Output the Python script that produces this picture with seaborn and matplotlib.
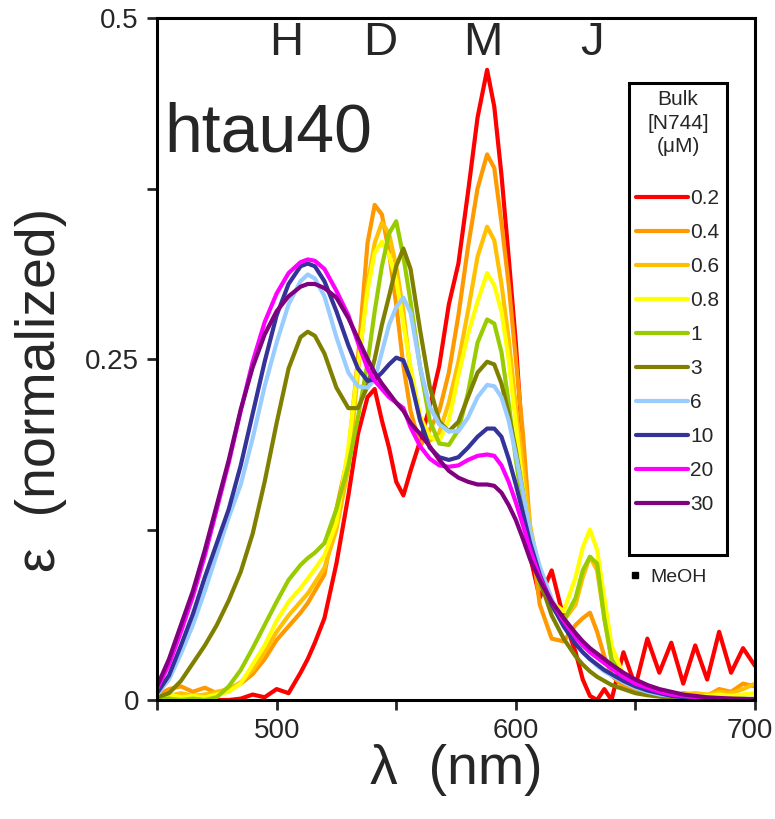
import matplotlib
matplotlib.use("Agg")
import matplotlib.pyplot as plt
import matplotlib.transforms as mtransforms
from matplotlib.lines import Line2D
import seaborn as sns
import pandas as pd

# wavelength grid (nm), denser around the band maxima
wavelength = [450, 455, 460, 465, 470, 475, 480, 485, 490, 495, 500, 505,
              510, 513, 516, 520, 525, 530, 534, 538, 541, 544, 547, 550,
              553, 556, 560, 564, 568, 572, 576, 580, 584, 588, 591, 594,
              597, 600, 603, 606, 610, 615, 620, 625, 628, 631, 634, 637,
              640, 645, 650, 655, 660, 665, 670, 675, 680, 685, 690, 695, 700]

eps_02 = [0.000, 0.000, 0.000, 0.000, 0.000, 0.000, 0.000, 0.001, 0.004, 0.002, 0.008, 0.005,
          0.020, 0.030, 0.042, 0.060, 0.100, 0.150, 0.195, 0.222, 0.228, 0.205, 0.185, 0.160,
          0.150, 0.168, 0.190, 0.215, 0.245, 0.290, 0.320, 0.372, 0.427, 0.462, 0.435, 0.385,
          0.325, 0.262, 0.183, 0.105, 0.075, 0.095, 0.060, 0.035, 0.015, 0.003, 0.000, 0.008,
          0.000, 0.035, 0.010, 0.045, 0.020, 0.042, 0.012, 0.040, 0.015, 0.050, 0.020, 0.038, 0.025]

eps_04 = [0.003, 0.008, 0.010, 0.006, 0.009, 0.005, 0.008, 0.012, 0.019, 0.030, 0.044, 0.054,
          0.064, 0.071, 0.080, 0.092, 0.140, 0.180, 0.250, 0.335, 0.363, 0.356, 0.328, 0.290,
          0.245, 0.212, 0.186, 0.198, 0.212, 0.240, 0.282, 0.332, 0.375, 0.400, 0.390, 0.350,
          0.305, 0.250, 0.195, 0.125, 0.070, 0.045, 0.043, 0.055, 0.060, 0.064, 0.050, 0.032,
          0.018, 0.010, 0.006, 0.004, 0.006, 0.003, 0.005, 0.004, 0.003, 0.008, 0.006, 0.012, 0.010]

eps_06 = [0.004, 0.003, 0.005, 0.003, 0.004, 0.006, 0.008, 0.013, 0.022, 0.035, 0.050, 0.062,
          0.072, 0.078, 0.086, 0.097, 0.125, 0.170, 0.240, 0.305, 0.335, 0.350, 0.342, 0.318,
          0.285, 0.240, 0.205, 0.190, 0.196, 0.218, 0.248, 0.285, 0.325, 0.347, 0.337, 0.305,
          0.265, 0.215, 0.170, 0.128, 0.092, 0.070, 0.058, 0.070, 0.090, 0.105, 0.095, 0.060,
          0.030, 0.014, 0.009, 0.006, 0.005, 0.004, 0.004, 0.005, 0.004, 0.006, 0.005, 0.008, 0.012]

eps_08 = [0.003, 0.004, 0.002, 0.003, 0.002, 0.004, 0.006, 0.012, 0.026, 0.040, 0.058, 0.072,
          0.082, 0.089, 0.096, 0.106, 0.130, 0.185, 0.245, 0.300, 0.328, 0.336, 0.326, 0.308,
          0.276, 0.244, 0.208, 0.193, 0.190, 0.205, 0.238, 0.268, 0.292, 0.313, 0.304, 0.285,
          0.250, 0.203, 0.155, 0.118, 0.090, 0.072, 0.065, 0.090, 0.112, 0.125, 0.110, 0.075,
          0.040, 0.018, 0.010, 0.007, 0.005, 0.004, 0.004, 0.003, 0.003, 0.004, 0.003, 0.004, 0.005]

eps_1 = [0.001, 0.001, 0.000, 0.001, 0.000, 0.002, 0.010, 0.022, 0.038, 0.055, 0.072, 0.088,
         0.099, 0.104, 0.108, 0.115, 0.140, 0.172, 0.207, 0.247, 0.285, 0.318, 0.342, 0.351,
         0.325, 0.292, 0.244, 0.205, 0.188, 0.187, 0.198, 0.225, 0.262, 0.279, 0.276, 0.255,
         0.218, 0.176, 0.142, 0.110, 0.085, 0.068, 0.058, 0.075, 0.095, 0.105, 0.100, 0.060,
         0.030, 0.015, 0.009, 0.006, 0.004, 0.003, 0.002, 0.002, 0.001, 0.001, 0.001, 0.001, 0.001]

eps_3 = [0.002, 0.005, 0.014, 0.027, 0.040, 0.055, 0.073, 0.094, 0.122, 0.160, 0.203, 0.243,
         0.266, 0.270, 0.267, 0.254, 0.229, 0.214, 0.214, 0.230, 0.250, 0.275, 0.296, 0.318,
         0.331, 0.316, 0.271, 0.230, 0.204, 0.197, 0.204, 0.222, 0.240, 0.248, 0.246, 0.232,
         0.210, 0.183, 0.152, 0.118, 0.088, 0.062, 0.045, 0.032, 0.026, 0.021, 0.017, 0.014,
         0.011, 0.008, 0.005, 0.0035, 0.0025, 0.0015, 0.001, 0.0007, 0.0005, 0.0003, 0.0002, 0.0001, 0.0001]

eps_6 = [0.004, 0.015, 0.034, 0.055, 0.080, 0.107, 0.134, 0.158, 0.192, 0.230, 0.262, 0.290,
         0.307, 0.312, 0.309, 0.296, 0.266, 0.240, 0.230, 0.229, 0.235, 0.255, 0.275, 0.288,
         0.295, 0.284, 0.244, 0.215, 0.202, 0.197, 0.197, 0.207, 0.222, 0.231, 0.230, 0.222,
         0.205, 0.180, 0.152, 0.124, 0.098, 0.074, 0.056, 0.042, 0.035, 0.030, 0.025, 0.021,
         0.018, 0.013, 0.009, 0.006, 0.004, 0.003, 0.002, 0.0015, 0.001, 0.0007, 0.0005, 0.0003, 0.0002]

eps_10 = [0.005, 0.018, 0.040, 0.063, 0.090, 0.115, 0.140, 0.172, 0.210, 0.248, 0.282, 0.305,
          0.318, 0.320, 0.318, 0.307, 0.285, 0.260, 0.243, 0.234, 0.235, 0.240, 0.246, 0.251,
          0.249, 0.235, 0.205, 0.185, 0.178, 0.176, 0.178, 0.185, 0.193, 0.199, 0.199, 0.193,
          0.177, 0.158, 0.137, 0.115, 0.092, 0.070, 0.054, 0.041, 0.035, 0.030, 0.026, 0.022,
          0.019, 0.014, 0.010, 0.007, 0.005, 0.003, 0.002, 0.0015, 0.001, 0.0008, 0.0005, 0.0003, 0.0002]

eps_20 = [0.008, 0.026, 0.050, 0.076, 0.106, 0.140, 0.174, 0.212, 0.248, 0.277, 0.298, 0.313,
          0.321, 0.323, 0.322, 0.316, 0.300, 0.282, 0.262, 0.243, 0.234, 0.228, 0.222, 0.218,
          0.214, 0.200, 0.186, 0.177, 0.172, 0.171, 0.172, 0.176, 0.179, 0.180, 0.179, 0.172,
          0.160, 0.145, 0.128, 0.110, 0.090, 0.072, 0.058, 0.046, 0.040, 0.035, 0.031, 0.027,
          0.023, 0.017, 0.012, 0.009, 0.006, 0.004, 0.003, 0.002, 0.0015, 0.001, 0.0008, 0.0005, 0.0003]

eps_30 = [0.010, 0.030, 0.055, 0.080, 0.110, 0.143, 0.176, 0.213, 0.244, 0.268, 0.285, 0.296,
          0.303, 0.305, 0.305, 0.302, 0.295, 0.280, 0.265, 0.250, 0.240, 0.232, 0.225, 0.218,
          0.212, 0.203, 0.195, 0.186, 0.176, 0.168, 0.163, 0.160, 0.158, 0.158, 0.157, 0.152,
          0.143, 0.132, 0.118, 0.103, 0.088, 0.072, 0.060, 0.049, 0.043, 0.038, 0.034, 0.030,
          0.026, 0.020, 0.015, 0.011, 0.008, 0.006, 0.004, 0.003, 0.002, 0.0015, 0.001, 0.0008, 0.0005]

conc_labels = ["0.2", "0.4", "0.6", "0.8", "1", "3", "6", "10", "20", "30"]
series = [eps_02, eps_04, eps_06, eps_08, eps_1, eps_3, eps_6, eps_10, eps_20, eps_30]
line_colors = ["#FF0000", "#FF9900", "#FFC000", "#FFFF00", "#99CC00",
               "#808000", "#99CCFF", "#333399", "#FF00FF", "#800080"]

band_labels = ["H", "D", "M", "J"]
band_wl = [504, 543.5, 586, 632]

# long-form table for seaborn
frames = []
for lab, vals in zip(conc_labels, series):
    frames.append(pd.DataFrame({"wl": wavelength, "eps": vals, "conc": lab}))
df = pd.concat(frames, ignore_index=True)

sns.set_style("ticks")
plt.rcParams["font.family"] = ["Liberation Sans", "DejaVu Sans"]

fig = plt.figure(figsize=(7.75, 8.19), dpi=100)
ax = fig.add_axes([0.2026, 0.1453, 0.7716, 0.8327])

sns.lineplot(data=df, x="wl", y="eps", hue="conc", hue_order=conc_labels,
             palette=dict(zip(conc_labels, line_colors)), linewidth=3.0,
             errorbar=None, sort=False, ax=ax, legend=False)

ax.set_xlim(450, 700)
ax.set_ylim(0, 0.5)
ax.set_xticks([450, 500, 550, 600, 650, 700])
ax.set_xticklabels(["", "500", "", "600", "", "700"], fontsize=20)
ax.set_yticks([0, 0.125, 0.25, 0.375, 0.5])
ax.set_yticklabels(["0", "", "0.25", "", "0.5"], fontsize=20)
ax.tick_params(direction="out", length=7, width=2, pad=6)
for sp in ax.spines.values():
    sp.set_linewidth(2.2)
    sp.set_color("black")

# nudge the last x label so it stays inside the canvas
last = ax.get_xticklabels()[-1]
last.set_transform(last.get_transform() +
                   mtransforms.ScaledTranslation(-5 / 100, 0, fig.dpi_scale_trans))

ax.set_xlabel("λ  (nm)", fontsize=40)
ax.xaxis.set_label_coords(0.5, -0.065)
ax.set_ylabel("ε  (normalized)", fontsize=40)
ax.yaxis.set_label_coords(-0.15, 0.455)

for lab, w in zip(band_labels, band_wl):
    ax.text(w, 0.482, lab, fontsize=34, ha="center", va="center")

ax.text(0.012, 0.805, "htau40", transform=ax.transAxes, fontsize=49,
        ha="left", va="baseline")

# legend with a spare empty row at the bottom, as in the original box
handles = [Line2D([], [], color=c, lw=3) for c in line_colors]
handles.append(Line2D([], [], color="none"))
leg = ax.legend(handles, conc_labels + [" "], title="Bulk\n[N744]\n(μM)",
                loc="upper right", bbox_to_anchor=(0.953, 0.905), borderaxespad=0,
                fontsize=15, title_fontsize=15, handlelength=2.5, handletextpad=0.1,
                labelspacing=0.72, fancybox=False, edgecolor="black", framealpha=1,
                borderpad=0.35)
leg.get_frame().set_linewidth(2.2)
leg.get_title().set_multialignment("center")
leg.get_title().set_linespacing(1.3)
leg._legend_box.sep = 0.72 * 15 + 13
ax.add_artist(leg)

meoh = Line2D([], [], marker="s", color="black", ls="", markersize=4)
ax.legend([meoh], ["MeOH"], loc="upper left", bbox_to_anchor=(0.77, 0.205),
          borderaxespad=0, frameon=False, fontsize=14, handlelength=1.0,
          handletextpad=0.3)

fig.savefig("out.png", dpi=100)
